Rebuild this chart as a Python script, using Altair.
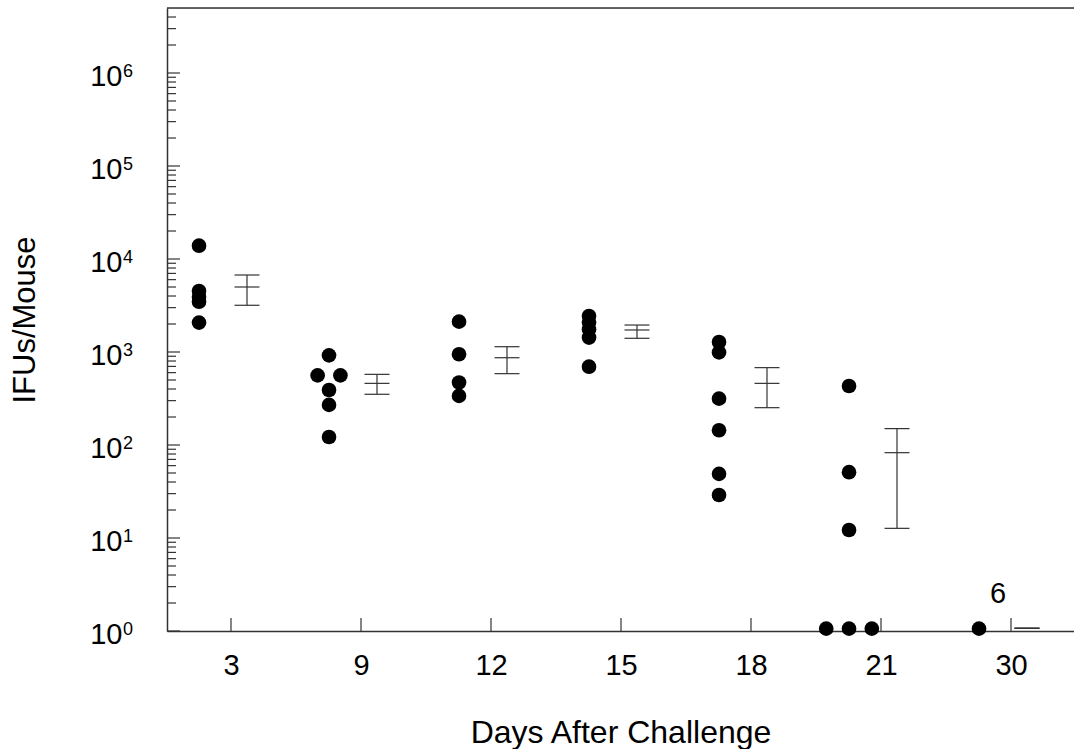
import altair as alt
import pandas as pd

# ---------------- data ----------------
day_labels = ["3", "9", "12", "15", "18", "21", "30"]

# individual mice
pt_day = (["3"] * 5 + ["9"] * 6 + ["12"] * 4 + ["15"] * 5 +
          ["18"] * 6 + ["21"] * 6 + ["30"] * 1)
pt_value = [13900, 4530, 3900, 3475, 2070,
            920, 560, 560, 390, 270, 122,
            2120, 945, 470, 337,
            2440, 2070, 1750, 1430, 695,
            1280, 990, 315, 144, 49, 29,
            431, 51, 12.2, 1.06, 1.06, 1.06,
            1.06]
# lateral slot used to keep overlapping dots apart
pt_slot = [0, 0, 0, 0, 0,
           0, -1, 1, 0, 0, 0,
           0, 0, 0, 0,
           0, 0, 0, 0, 0,
           0, 0, 0, 0, 0, 0,
           0, 0, 0, -2, 0, 2,
           0]

# group mean and error limits
sum_mean = [5000, 460, 868, 1725, 460, 82.7, 1.07]
sum_hi = [6730, 575, 1140, 1950, 679, 150, 1.07]
sum_lo = [3180, 351, 585, 1404, 252, 12.7, 1.07]

count_note = ["6"]  # annotation over day 30

y_major = [1, 10, 100, 1000, 10000, 100000, 1000000]
y_exp = ["0", "1", "2", "3", "4", "5", "6"]
y_minor = [m * 10 ** k for k in range(6) for m in range(2, 10)] + [2e6, 3e6, 4e6]

# ---------------- layout / style constants ----------------
W, H = 907, 623
DOT_SHIFT = -0.246
SLOT = 0.0877
BAR_SHIFT = 0.123
CAP_HALF = 0.096
FONT = "Liberation Sans"
LINE = "#333333"

pts = pd.DataFrame({"day": pt_day, "value": pt_value, "slot": pt_slot})
pts["idx"] = [day_labels.index(d) for d in pts["day"]]
summ = pd.DataFrame({"day": day_labels, "mean": sum_mean, "hi": sum_hi, "lo": sum_lo})
summ["idx"] = list(range(len(day_labels)))
xt = pd.DataFrame({"idx": list(range(len(day_labels)))})
ymaj = pd.DataFrame({"v": y_major, "e": y_exp})
ymin = pd.DataFrame({"v": y_minor})
note = pd.DataFrame({"idx": [6], "value": [1.06], "txt": count_note})
one = pd.DataFrame({"a": [0]})

xscale = alt.Scale(domain=[-0.4923, 6.4846], nice=False, zero=False)
yscale = alt.Scale(type="log", domain=[1, 5e6], nice=False)

lbl_arr = "[" + ",".join(f"'{d}'" for d in day_labels) + "]"
x_axis = alt.Axis(
    values=list(range(len(day_labels))),
    labelExpr=f"{lbl_arr}[datum.value]",
    ticks=False, tickSize=0, grid=False, domain=True,
    domainColor=LINE, domainWidth=1.5,
    labelFont=FONT, labelFontSize=29, labelColor="black",
    labelBaseline="alphabetic", labelPadding=43,
    title="Days After Challenge", titleFont=FONT, titleFontSize=32,
    titleFontWeight="normal", titleColor="black",
    titleBaseline="alphabetic", titleY=111,
)
y_axis = alt.Axis(
    values=y_major,
    labelExpr="'10'",
    ticks=False, tickSize=0, grid=False, domain=True,
    domainColor=LINE, domainWidth=1.5,
    labelFont=FONT, labelFontSize=29, labelColor="black",
    labelBaseline="middle", labelPadding=45, labelOffset=3,
    title="IFUs/Mouse", titleFont=FONT, titleFontSize=31,
    titleFontWeight="normal", titleColor="black",
    titleBaseline="alphabetic", titleAngle=270, titleX=-133, titleY=H / 2,
    titleAlign="center",
)

dots = alt.Chart(pts).transform_calculate(
    xpos=f"datum.idx + ({DOT_SHIFT}) + datum.slot * {SLOT}"
).mark_circle(size=215, color="black", opacity=1).encode(
    x=alt.X("xpos:Q", scale=xscale, axis=x_axis),
    y=alt.Y("value:Q", scale=yscale, axis=y_axis),
)

bars = alt.Chart(summ).transform_calculate(
    bx=f"datum.idx + {BAR_SHIFT}"
).mark_rule(color=LINE, strokeWidth=1.2).encode(
    x=alt.X("bx:Q", scale=xscale, axis=x_axis),
    y=alt.Y("lo:Q", scale=yscale, axis=y_axis),
    y2="hi:Q",
)

caps = alt.Chart(summ).transform_fold(
    ["hi", "mean", "lo"], as_=["k", "v"]
).transform_calculate(
    bl=f"datum.idx + {BAR_SHIFT} - {CAP_HALF}",
    br=f"datum.idx + {BAR_SHIFT} + {CAP_HALF}",
).mark_rule(color=LINE, strokeWidth=1.2).encode(
    x=alt.X("bl:Q", scale=xscale, axis=x_axis),
    x2="br:Q",
    y=alt.Y("v:Q", scale=yscale, axis=y_axis),
)

xticks = alt.Chart(xt).mark_rule(color=LINE, strokeWidth=1.2).encode(
    x=alt.X("idx:Q", scale=xscale, axis=x_axis),
    y=alt.value(H), y2=alt.value(H - 13),
)
ymajor = alt.Chart(ymaj).mark_rule(color=LINE, strokeWidth=1.2).encode(
    y=alt.Y("v:Q", scale=yscale, axis=y_axis),
    x=alt.value(0), x2=alt.value(13),
)
yexp = alt.Chart(ymaj).mark_text(
    font=FONT, fontSize=18, color="black", align="left", baseline="top", dy=-10
).encode(
    y=alt.Y("v:Q", scale=yscale, axis=y_axis),
    x=alt.value(-44),
    text="e:N",
)
yminor = alt.Chart(ymin).mark_rule(color=LINE, strokeWidth=1.2).encode(
    y=alt.Y("v:Q", scale=yscale, axis=y_axis),
    x=alt.value(0), x2=alt.value(9),
)
topline = alt.Chart(one).mark_rule(color=LINE, strokeWidth=1.5).encode(
    y=alt.value(0), x=alt.value(0), x2=alt.value(W),
)
label6 = alt.Chart(note).mark_text(
    font=FONT, fontSize=29, color="black", dx=-13, dy=-35, baseline="middle"
).encode(
    x=alt.X("idx:Q", scale=xscale, axis=x_axis),
    y=alt.Y("value:Q", scale=yscale, axis=y_axis),
    text="txt:N",
)

chart = alt.layer(
    dots, bars, caps, xticks, ymajor, yminor, yexp, topline, label6
).properties(
    width=W, height=H,
    padding={"left": 167, "top": 8, "right": 0, "bottom": 118},
    autosize=alt.AutoSizeParams(type="none"),
).configure_view(stroke=None).configure(background="white")

chart.save("out.html", embed_options={"renderer": "svg", "actions": False})
